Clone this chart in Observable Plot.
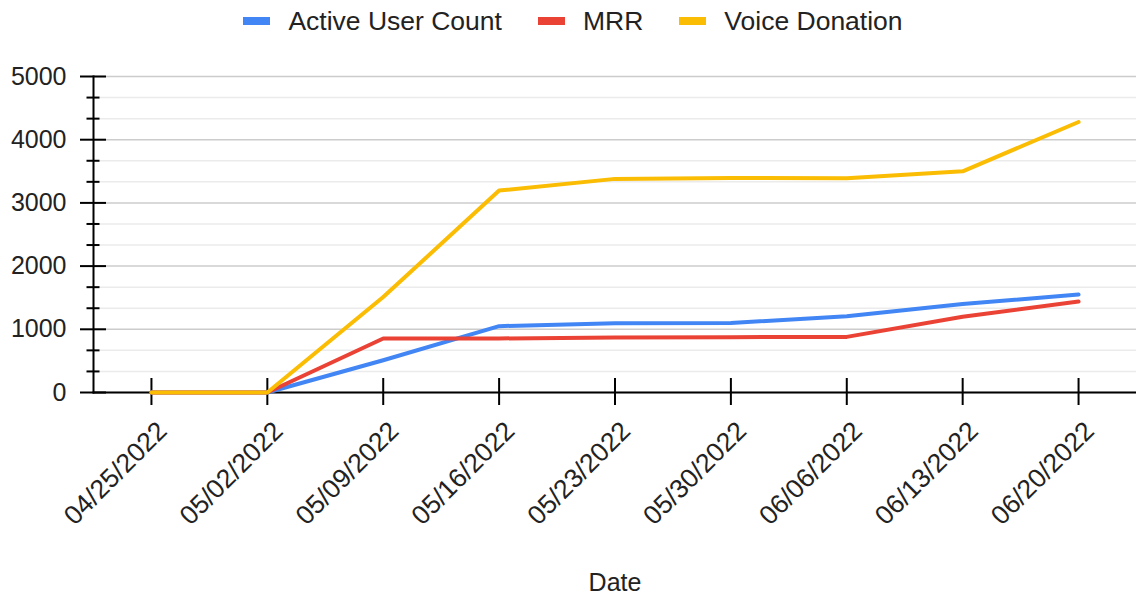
<!DOCTYPE html>
<html><head><meta charset="utf-8">
<script src="https://cdn.jsdelivr.net/npm/d3@7"></script>
<script src="https://cdn.jsdelivr.net/npm/@observablehq/plot@0.6"></script>
<style>
body{margin:0;background:#fff;font-family:"Liberation Sans",Arial,sans-serif;}
#legend{height:42px;display:flex;justify-content:center;align-items:center;gap:36px;font-size:26.5px;color:#222;padding-left:10px;}
.item{display:flex;align-items:center;}
.sw{width:27px;height:8px;margin-right:18px;}
</style></head><body>
<div id="legend"></div><div id="chart"></div>
<script>
const dates = ["04/25/2022","05/02/2022","05/09/2022","05/16/2022","05/23/2022","05/30/2022","06/06/2022","06/13/2022","06/20/2022"];
const activeUsers = [0,0,510,1050,1095,1100,1205,1400,1550];
const mrr = [0,0,855,855,870,875,880,1200,1440];
const voiceDonation = [0,0,1510,3195,3380,3395,3390,3500,4280];
const seriesNames = ["Active User Count","MRR","Voice Donation"];
const seriesColors = ["#4285F4","#EA4335","#FBBC04"];
const yTicks = [0,1000,2000,3000,4000,5000];
const yMinorTicks = d3.range(0,5000,1000/3).filter((d,i)=>i%3!==0);
const xLabel = "Date";

const seriesValues = [activeUsers, mrr, voiceDonation];
const rows = seriesNames.flatMap((s,k)=>dates.map((d,i)=>({series:s,date:d,value:seriesValues[k][i]})));

const legend = document.getElementById("legend");
seriesNames.forEach((s,k)=>{
  const it=document.createElement("div");it.className="item";
  const sw=document.createElement("span");sw.className="sw";sw.style.background=seriesColors[k];
  const t=document.createElement("span");t.textContent=s;
  it.appendChild(sw);it.appendChild(t);legend.appendChild(it);
});

const plot = Plot.plot({
  width:1136, height:553,
  marginLeft:93, marginRight:0, marginTop:34, marginBottom:203,
  style:{fontFamily:"'Liberation Sans', Arial, sans-serif", fontSize:"25px", color:"#000", background:"#fff"},
  x:{type:"point", domain:dates, padding:0.5, round:false, label:xLabel},
  y:{domain:[0,5000], label:null},
  color:{domain:seriesNames, range:seriesColors},
  marks:[
    Plot.gridY(yMinorTicks,{stroke:"#ebebeb",strokeOpacity:1,strokeWidth:1.5}),
    Plot.gridY(yTicks,{stroke:"#cccccc",strokeOpacity:1,strokeWidth:1.5}),
    Plot.frame({anchor:"left",strokeWidth:2}),
    Plot.frame({anchor:"bottom",strokeWidth:2}),
    Plot.axisY(yTicks,{tickSize:26,dx:13,fill:"none",strokeWidth:2,label:null}),
    Plot.axisY(yMinorTicks,{tickSize:13,dx:6.5,fill:"none",strokeWidth:2,label:null}),
    Plot.axisY(yTicks,{tickSize:0,tickPadding:27,stroke:"none",fill:"#222",tickFormat:d3.format("d"),label:null}),
    Plot.axisX(dates,{tickSize:27,dy:-14,fill:"none",strokeWidth:2,label:null}),
    Plot.axisX(dates,{tickSize:0,tickPadding:34,stroke:"none",fill:"#222",fontSize:26.5,tickRotate:-45,dx:11,label:null}),
    Plot.axisX(dates,{tickSize:0,stroke:"none",fill:"#222",tickFormat:()=>"",label:xLabel,labelAnchor:"center",labelArrow:"none",labelOffset:198}),
    Plot.line(rows,{x:"date",y:"value",z:"series",stroke:"series",strokeWidth:4})
  ]
});
document.getElementById("chart").appendChild(plot);
</script></body></html>
